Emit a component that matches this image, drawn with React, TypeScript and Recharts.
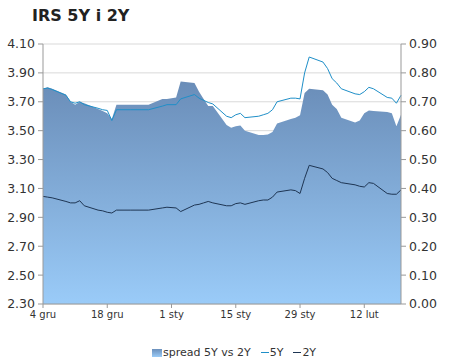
import {
  ComposedChart,
  Area,
  Line,
  XAxis,
  YAxis,
  CartesianGrid,
  Legend,
} from "recharts";

// business days, counted from 4 gru
const days = [
  0, 1, 2, 5, 6, 7, 8, 9, 12, 13, 14, 15, 16, 19, 23, 26, 27, 29, 30, 33, 34,
  35, 36, 37, 40, 41, 42, 43, 44, 47, 48, 49, 50, 51, 54, 55, 56, 57, 58, 61,
  62, 63, 64, 65, 68, 69, 70, 71, 72, 75, 76, 77, 78,
];

const irs5y = [
  3.79, 3.795, 3.785, 3.745, 3.7, 3.69, 3.7, 3.68, 3.655, 3.645, 3.64, 3.57,
  3.645, 3.645, 3.645, 3.67, 3.68, 3.68, 3.72, 3.75, 3.725, 3.71, 3.695, 3.685,
  3.6, 3.59, 3.61, 3.62, 3.59, 3.6, 3.61, 3.62, 3.645, 3.7, 3.725, 3.725, 3.72,
  3.9, 4.01, 3.975, 3.93, 3.86, 3.83, 3.79, 3.755, 3.75, 3.77, 3.8, 3.79, 3.73,
  3.725, 3.69, 3.745,
];

const irs2y = [
  3.045, 3.04, 3.035, 3.01, 3.0, 3.0, 3.015, 2.98, 2.95, 2.945, 2.935, 2.93,
  2.95, 2.95, 2.95, 2.965, 2.97, 2.965, 2.94, 2.985, 2.99, 3.0, 3.01, 3.0, 2.98,
  2.98, 2.995, 3.0, 2.99, 3.015, 3.02, 3.02, 3.04, 3.075, 3.09, 3.085, 3.065,
  3.17, 3.26, 3.235, 3.21, 3.17, 3.155, 3.14, 3.125, 3.115, 3.11, 3.14, 3.135,
  3.065, 3.06, 3.06, 3.09,
];

const spread = [
  0.745, 0.75, 0.745, 0.725, 0.7, 0.69, 0.7, 0.695, 0.675, 0.668, 0.66, 0.64,
  0.69, 0.69, 0.69, 0.71, 0.71, 0.715, 0.77, 0.765, 0.735, 0.71, 0.685, 0.685,
  0.62, 0.61, 0.615, 0.618, 0.6, 0.585, 0.585, 0.587, 0.595, 0.625, 0.64, 0.645,
  0.653, 0.73, 0.745, 0.74, 0.725, 0.69, 0.675, 0.645, 0.628, 0.635, 0.66,
  0.67, 0.668, 0.665, 0.66, 0.615, 0.655,
];

const xTicks = [0, 14, 28, 42, 56, 70];
const xLabels = ["4 gru", "18 gru", "1 sty", "15 sty", "29 sty", "12 lut"];
const leftTicks = [2.3, 2.5, 2.7, 2.9, 3.1, 3.3, 3.5, 3.7, 3.9, 4.1];
const rightTicks = [0, 0.1, 0.2, 0.3, 0.4, 0.5, 0.6, 0.7, 0.8, 0.9];

const data = days.map((d, i) => ({
  day: d,
  y5: irs5y[i],
  y2: irs2y[i],
  spread: spread[i],
}));

const FONT = "'DejaVu Sans', Verdana, sans-serif";
const C5 = "#1f8fc8";
const C2 = "#1e3553";

function LegendBox() {
  return (
    <div
      style={{
        display: "flex",
        alignItems: "center",
        fontFamily: FONT,
        fontSize: 11,
        color: "#333",
        whiteSpace: "nowrap",
      }}
    >
      <span
        style={{
          display: "inline-block",
          width: 10,
          height: 8,
          marginRight: 1,
          background: "linear-gradient(#6b8fbb, #9acbf7)",
        }}
      />
      <span style={{ marginRight: 10 }}>spread 5Y vs 2Y</span>
      <span
        style={{ display: "inline-block", width: 8, height: 1, background: C5, marginRight: 1 }}
      />
      <span style={{ marginRight: 10 }}>5Y</span>
      <span
        style={{ display: "inline-block", width: 8, height: 1, background: C2, marginRight: 1 }}
      />
      <span>2Y</span>
    </div>
  );
}

export default function App() {
  return (
    <div style={{ position: "relative", width: 450, height: 363, background: "#fff" }}>
      <style>{"body{margin:0}"}</style>
      <div
        style={{
          position: "absolute",
          left: 32,
          top: 6,
          fontFamily: FONT,
          fontWeight: "bold",
          fontSize: 16,
          color: "#222",
        }}
      >
        IRS 5Y i 2Y
      </div>
      <ComposedChart
        width={450}
        height={363}
        data={data}
        margin={{ top: 44, right: 0, bottom: 12, left: 0 }}
      >
        <defs>
          <linearGradient id="spreadFill" x1="0" y1="0" x2="0" y2="1">
            <stop offset="0%" stopColor="#6a8db8" />
            <stop offset="100%" stopColor="#9acbf8" />
          </linearGradient>
        </defs>
        <CartesianGrid
          yAxisId="left"
          vertical={false}
          stroke="#d9d9d9"
        />
        <XAxis
          dataKey="day"
          type="number"
          domain={[0, 78]}
          ticks={xTicks}
          tickFormatter={(v: number) => xLabels[xTicks.indexOf(v)]}
          height={34}
          tickSize={4}
          tickMargin={3}
          stroke="#999"
          tick={{ fill: "#333", fontSize: 10, fontFamily: FONT }}
        />
        <YAxis
          yAxisId="left"
          domain={[2.3, 4.1]}
          ticks={leftTicks}
          tickFormatter={(v: number) => v.toFixed(2)}
          width={43}
          tickSize={5}
          tickMargin={3}
          stroke="#999"
          interval={0}
          tick={{ fill: "#333", fontSize: 12.5, fontFamily: FONT }}
        />
        <YAxis
          yAxisId="right"
          orientation="right"
          domain={[0, 0.9]}
          ticks={rightTicks}
          tickFormatter={(v: number) => v.toFixed(2)}
          width={49}
          tickSize={5}
          tickMargin={3}
          stroke="#999"
          interval={0}
          tick={{ fill: "#333", fontSize: 12.5, fontFamily: FONT }}
        />
        <Area
          yAxisId="right"
          type="linear"
          dataKey="spread"
          name="spread 5Y vs 2Y"
          stroke="none"
          fill="url(#spreadFill)"
          fillOpacity={1}
          isAnimationActive={false}
        />
        <Line
          yAxisId="left"
          type="linear"
          dataKey="y5"
          name="5Y"
          stroke={C5}
          strokeWidth={1}
          dot={false}
          isAnimationActive={false}
        />
        <Line
          yAxisId="left"
          type="linear"
          dataKey="y2"
          name="2Y"
          stroke={C2}
          strokeWidth={1}
          dot={false}
          isAnimationActive={false}
        />
        <Legend
          content={() => <LegendBox />}
          wrapperStyle={{ left: 152, bottom: 4, width: "auto" }}
        />
      </ComposedChart>
    </div>
  );
}
